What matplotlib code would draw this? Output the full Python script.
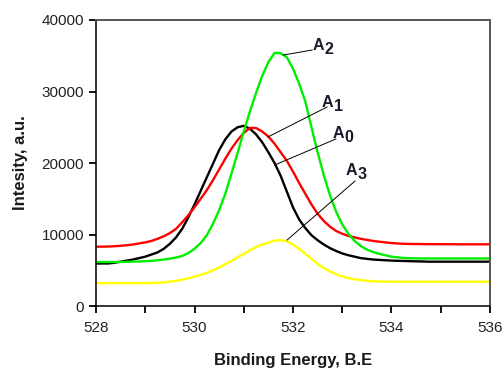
import matplotlib
matplotlib.use("Agg")
import matplotlib.pyplot as plt
from matplotlib.ticker import MultipleLocator

plt.rcParams['font.family'] = ['Liberation Sans', 'DejaVu Sans']

# binding energy grid (eV), 0.125 eV steps from 528 to 536
energy = [528 + 0.125 * i for i in range(65)]

# measured intensities, one row per eV
a0 = [5950, 5950, 5950, 6050, 6200, 6350, 6500, 6700,
      6900, 7200, 7500, 8000, 8700, 9600, 10800, 12400,
      14200, 16100, 18000, 19900, 21800, 23300, 24400, 25000,
      25200, 24800, 24000, 22900, 21500, 20000, 18200, 16000,
      13800, 12100, 10900, 9900, 9200, 8600, 8100, 7700,
      7350, 7100, 6900, 6700, 6600, 6500, 6450, 6400,
      6350, 6320, 6300, 6270, 6250, 6230, 6200, 6200,
      6200, 6200, 6200, 6200, 6200, 6200, 6200, 6200,
      6200]
a1 = [8300, 8300, 8320, 8360, 8420, 8500, 8600, 8750,
      8900, 9100, 9400, 9750, 10200, 10800, 11700, 12700,
      13800, 15000, 16200, 17600, 19100, 20600, 22000, 23200,
      24200, 24900, 24900, 24400, 23700, 22700, 21500, 20300,
      18800, 17200, 15700, 14200, 12900, 11900, 11100, 10500,
      10100, 9800, 9600, 9400, 9250, 9100, 9000, 8900,
      8800, 8750, 8700, 8680, 8670, 8660, 8650, 8650,
      8640, 8640, 8640, 8630, 8630, 8630, 8630, 8630,
      8630]
a2 = [6150, 6150, 6150, 6150, 6160, 6180, 6200, 6230,
      6270, 6320, 6400, 6500, 6620, 6780, 7000, 7400,
      8000, 8800, 9900, 11500, 13400, 15700, 18500, 21400,
      24400, 27200, 29800, 32200, 34100, 35400, 35350, 34800,
      33200, 31100, 28600, 25000, 21500, 18300, 15500, 13200,
      11400, 10100, 9100, 8400, 7900, 7550, 7300, 7100,
      6900, 6800, 6720, 6680, 6660, 6650, 6650, 6650,
      6650, 6650, 6650, 6650, 6650, 6650, 6650, 6650,
      6650]
a3 = [3200, 3200, 3200, 3200, 3200, 3200, 3200, 3200,
      3200, 3220, 3250, 3300, 3400, 3520, 3680, 3880,
      4100, 4350, 4650, 5000, 5400, 5850, 6300, 6800,
      7300, 7800, 8250, 8600, 8850, 9150, 9200, 9050,
      8600, 8000, 7300, 6600, 5900, 5300, 4850, 4450,
      4150, 3900, 3750, 3620, 3530, 3470, 3430, 3410,
      3400, 3400, 3400, 3400, 3400, 3400, 3400, 3400,
      3400, 3400, 3400, 3400, 3400, 3400, 3400, 3400,
      3400]

series = [(a0, 'black'), (a1, '#ff0000'), (a2, '#00ee00'), (a3, '#ffff00')]

# peak labels: (index, point on curve, end of leader, text position)
labels = [
    ('2', (531.80, 35100), (532.39, 35800), (532.39, 35800)),
    ('1', (531.49, 23640), (532.69, 27830), (532.59, 27830)),
    ('0', (531.63, 19720), (532.87, 23360), (532.81, 23500)),
    ('3', (531.88, 9230), (533.26, 17480), (533.06, 18320)),
]

fig = plt.figure(figsize=(5.04, 3.69), dpi=100)
ax = fig.add_axes([0.1905, 0.1707, 0.7817, 0.7751])

for y, c in series:
    ax.plot(energy, y, color=c, lw=1.7, solid_joinstyle='round')

for sub, (x0, y0), (x1, y1), (tx, ty) in labels:
    ax.plot([x0, x1], [y0, y1], color='black', lw=0.7)
    ax.text(tx, ty, 'A', fontsize=11.5, fontweight='bold', color='#1a1a2a',
            ha='left', va='baseline')
    ax.annotate(sub, xy=(tx, ty), xytext=(8.6, -3), textcoords='offset points',
                fontsize=11.5, fontweight='bold', color='#1a1a2a',
                ha='left', va='baseline')

ax.set_xlim(528, 536)
ax.set_ylim(0, 40000)
ax.xaxis.set_major_locator(MultipleLocator(2))
ax.xaxis.set_minor_locator(MultipleLocator(1))
ax.yaxis.set_major_locator(MultipleLocator(10000))
ax.tick_params(which='both', direction='out', length=5, width=1.3,
               labelsize=11, labelcolor='#222222')
ax.tick_params(axis='x', which='both', pad=6)

for s in ['left', 'bottom']:
    ax.spines[s].set_color('black')
    ax.spines[s].set_linewidth(1.1)
for s in ['top', 'right']:
    ax.spines[s].set_color('#555555')
    ax.spines[s].set_linewidth(1.4)

ax.set_xlabel('Binding Energy, B.E', fontsize=12, fontweight='bold',
              color='#1a1a1a', labelpad=13)
ax.set_ylabel('Intesity, a.u.', fontsize=12, fontweight='bold',
              color='#1a1a1a', labelpad=10)

fig.savefig('out.png', dpi=100)
